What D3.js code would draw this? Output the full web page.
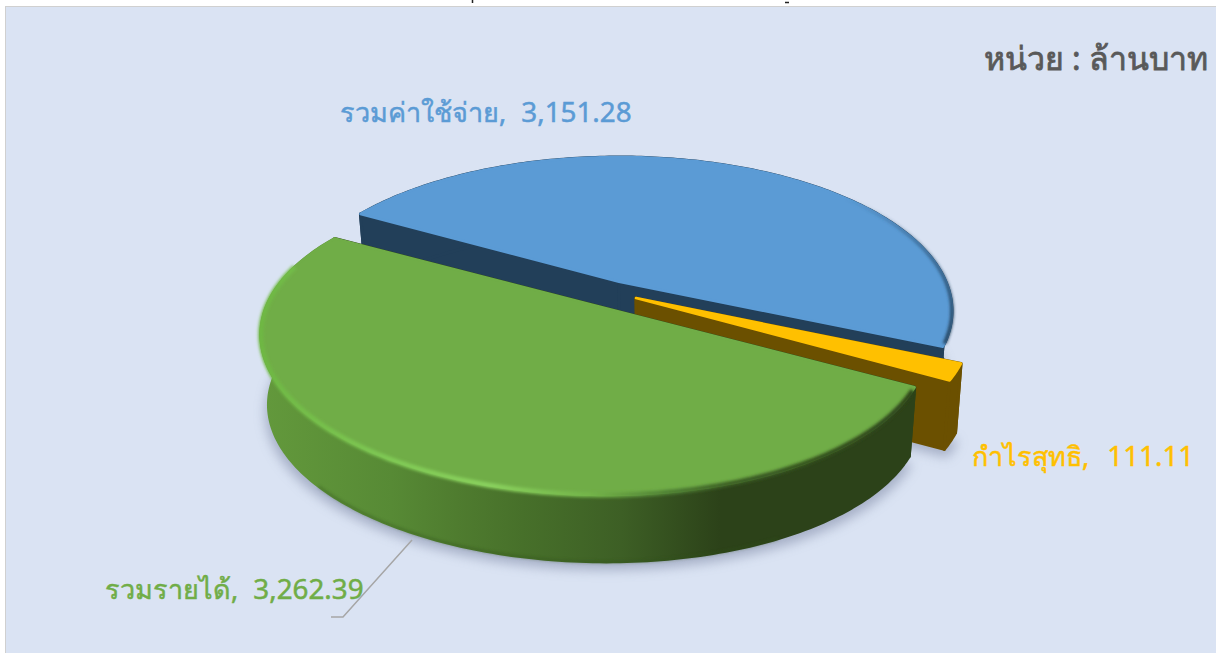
<!DOCTYPE html>
<html>
<head>
<meta charset="UTF-8">
<title>pie</title>
<style>
    html, body { margin: 0; padding: 0; background: #fff; }
    svg { display: block; }
    text { font-family: "Noto Sans", "Open Sans", "DejaVu Sans", sans-serif; }
</style>
</head>
<body>
<svg id="chart" width="1216" height="653"></svg>
<script src="https://d3js.org/d3.v7.min.js"></script>
<script>
    var categories = ["รวมค่าใช้จ่าย", "กำไรสุทธิ", "รวมรายได้"];
    var values = [3151.28, 111.11, 3262.39];
    var unitLabel = "หน่วย : ล้านบาท";

    var topColors = ["#5b9bd5", "#ffc000", "#70ad47"];
    var wallColors = ["#223f59", "#6b5000", "#2c4219"];

    // each slice has its own exploded centre, perspective and skew
    var centers = [
        {x: 619, y: 311, rx: 333, ry: 154, t: 0.19, k: 0},
        {x: 636, y: 326, rx: 335, ry: 155, t: 0.18, k: 0},
        {x: 594, y: 340, rx: 333, ry: 155, t: 0.23, k: 0.075}
    ];
    var depth = 70;
    var bottomScale = 0.98;
    var startDeg = 300;

    var svg = d3.select("#chart");
    var defs = svg.append("defs");

    var blur = function (id, dev) {
        defs.append("filter").attr("id", id)
            .attr("x", "-20%").attr("y", "-20%").attr("width", "140%").attr("height", "140%")
            .append("feGaussianBlur").attr("stdDeviation", dev);
    };
    blur("shadowBlur", 6);
    blur("rimBlur", 1.6);

    function addGradient(id, x1, y1, x2, y2, stops) {
        var grad = defs.append("linearGradient").attr("id", id)
            .attr("gradientUnits", "userSpaceOnUse")
            .attr("x1", x1).attr("y1", y1).attr("x2", x2).attr("y2", y2);
        stops.forEach(function (s) {
            grad.append("stop").attr("offset", s[0]).attr("stop-color", s[1])
                .attr("stop-opacity", s[2] === undefined ? 1 : s[2]);
        });
    }
    addGradient("greenWall", 260, 0, 917, 0, [[0, "#63993c"], [0.2, "#578a35"], [0.3, "#4f7c2f"], [0.4, "#47702a"],
        [0.55, "#3d5f25"], [0.7, "#2c4219"], [1, "#2c4219"]]);
    addGradient("greenRim", 260, 0, 917, 0, [[0, "#6eb843"], [0.2, "#80ca55"], [0.35, "#8ad25e"], [0.5, "#74b54a"],
        [0.62, "#4f8034"], [0.72, "#3a5c22"], [1, "#2c4219"]]);
    addGradient("blueRim", 850, 195, 950, 330, [[0, "#2a5173", 0], [0.6, "#2a5173", 0.7], [1, "#223f59", 1]]);

    // background panel
    svg.append("rect").attr("x", 5.5).attr("y", 6.5).attr("width", 1212).attr("height", 648)
        .attr("fill", "#dae3f3").attr("stroke", "#d0d0d0");

    // scraps of the cut off title above the panel
    svg.append("path").attr("d", "M472.5,0V3M785,2.5H789").attr("stroke", "#222").attr("stroke-width", 1.5);

    var pie = d3.pie().sort(null)
        .startAngle(startDeg * Math.PI / 180)
        .endAngle((startDeg + 360) * Math.PI / 180);
    var slices = pie(values);

    function project(c, angle, r) {
        var t = c.t;
        var u0 = r * Math.sin(angle), v0 = r * Math.cos(angle);
        var d = 1 + t * v0;
        var u = u0 * Math.sqrt(1 - t * t) / d;
        var v = (v0 + t) / d;
        return [c.x + c.rx * u - c.k * c.ry * v, c.y - c.ry * v];
    }

    function bottomOf(c) {
        return {x: c.x + 1, y: c.y + depth, rx: c.rx * bottomScale, ry: c.ry * bottomScale, t: c.t, k: c.k};
    }

    function arcPoints(c, a0, a1) {
        var n = Math.max(8, Math.ceil((a1 - a0) * 60));
        return d3.range(n + 1).map(function (i) {
            return project(c, a0 + (a1 - a0) * i / n, 1);
        });
    }

    var line = d3.line();
    function polygon(pts) { return line(pts) + "Z"; }

    function sector(c, s) {
        return polygon([project(c, 0, 0)].concat(arcPoints(c, s.startAngle, s.endAngle)));
    }

    // soft shadow under the whole pie
    var shadow = svg.append("g").attr("filter", "url(#shadowBlur)").attr("opacity", 0.7);
    slices.forEach(function (s, i) {
        var b = bottomOf(centers[i]);
        shadow.append("path").attr("d", sector({x: b.x, y: b.y + 8, rx: b.rx + 3, ry: b.ry, t: b.t, k: b.k}, s))
            .attr("fill", "#8f99b3");
    });

    slices.forEach(function (s, i) {
        var c = centers[i], b = bottomOf(c);
        var g = svg.append("g").attr("class", "slice");
        var wall = i === 2 ? "url(#greenWall)" : wallColors[i];

        // radial walls
        [s.startAngle, s.endAngle].forEach(function (a) {
            g.append("path")
                .attr("d", polygon([project(c, a, 0), project(c, a, 1), project(b, a, 1), project(b, a, 0)]))
                .attr("fill", wallColors[i]).attr("stroke", wallColors[i])
                .attr("stroke-width", 3).attr("stroke-linejoin", "round");
        });

        // outer wall
        g.append("path")
            .attr("d", polygon(arcPoints(c, s.startAngle, s.endAngle)
                .concat(arcPoints(b, s.startAngle, s.endAngle).reverse())))
            .attr("fill", wall).attr("stroke", wall)
            .attr("stroke-width", 3).attr("stroke-linejoin", "round");

        // darker foot of the green wall
        if (i === 2) {
            g.append("path")
                .attr("d", line(arcPoints(b, s.startAngle + 0.6, s.startAngle + 1.9)))
                .attr("fill", "none").attr("stroke", "#2f4f1a").attr("stroke-width", 2)
                .attr("opacity", 0.5).attr("filter", "url(#rimBlur)");
        }

        // top face
        g.append("path").attr("d", sector(c, s))
            .attr("fill", topColors[i]).attr("stroke", topColors[i])
            .attr("stroke-width", 2.5).attr("stroke-linejoin", "round");
    });

    // bevels on the rim
    svg.append("path")
        .attr("d", line(arcPoints(centers[2], slices[2].startAngle + 0.02, slices[2].endAngle - 0.25)))
        .attr("fill", "none").attr("stroke", "url(#greenRim)").attr("stroke-width", 5)
        .attr("filter", "url(#rimBlur)");

    var blueEnd = slices[0].endAngle;
    svg.append("path")
        .attr("d", line(arcPoints(centers[0], blueEnd - 1.2, blueEnd - 0.02)))
        .attr("fill", "none").attr("stroke", "url(#blueRim)").attr("stroke-width", 3.5)
        .attr("filter", "url(#rimBlur)");

    // leader line
    svg.append("path").attr("d", "M412,540L343,617L331,617")
        .attr("fill", "none").attr("stroke", "#a6a6a6").attr("stroke-width", 1.5);

    // data labels
    var fmt = d3.format(",.2f");
    var labelPos = [[340, 122], [972, 466], [105, 599]];
    var valueGap = [1, 4, 1];
    categories.forEach(function (name, i) {
        var label = svg.append("text")
            .attr("x", labelPos[i][0]).attr("y", labelPos[i][1])
            .attr("font-size", 27).attr("fill", topColors[i])
            .attr("stroke", topColors[i]).attr("stroke-width", 0.5)
            .style("white-space", "pre");
        label.append("tspan").text(name + ",  ");
        label.append("tspan").attr("dx", valueGap[i]).attr("font-size", 27.8).text(fmt(values[i]));
    });

    svg.append("text").attr("x", 1208).attr("y", 70).attr("text-anchor", "end")
        .attr("font-size", 32).attr("fill", "#595959")
        .attr("stroke", "#595959").attr("stroke-width", 0.8)
        .style("white-space", "pre")
        .text(unitLabel);
</script>
</body>
</html>
